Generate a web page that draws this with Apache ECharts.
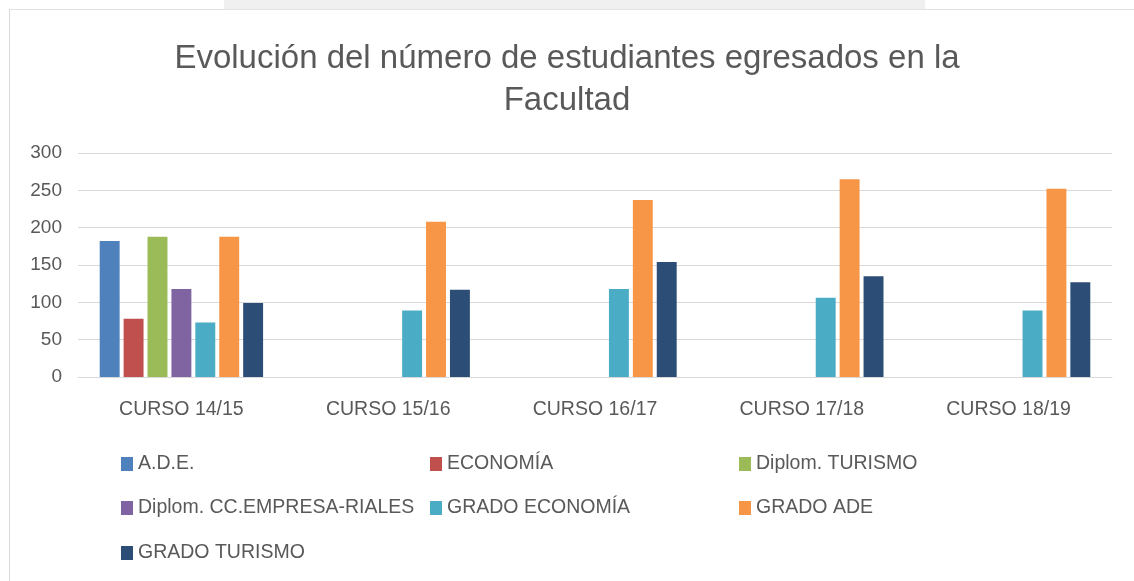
<!DOCTYPE html>
<html><head><meta charset="utf-8">
<script src="https://cdn.jsdelivr.net/npm/echarts@6/dist/echarts.min.js"></script>
<style>html,body{margin:0;padding:0;background:#fff}#c{width:1134px;height:581px}</style>
</head><body><div id="c"></div>
<script>
const categories = ['CURSO 14/15','CURSO 15/16','CURSO 16/17','CURSO 17/18','CURSO 18/19'];
const seriesNames = ['A.D.E.','ECONOMÍA','Diplom. TURISMO','Diplom. CC.EMPRESA-RIALES','GRADO ECONOMÍA','GRADO ADE','GRADO TURISMO'];
const ade = [182, null, null, null, null];
const economia = [78, null, null, null, null];
const diplTurismo = [188, null, null, null, null];
const diplEmpresa = [118, null, null, null, null];
const gradoEconomia = [73, 89, 118, 106, 89];
const gradoAde = [188, 208, 237, 265, 252];
const gradoTurismo = [99, 117, 154, 135, 127];
const yTicks = [0, 50, 100, 150, 200, 250, 300];

const values = [ade, economia, diplTurismo, diplEmpresa, gradoEconomia, gradoAde, gradoTurismo];
const colors = ['#4F81BD','#C0504D','#9BBB59','#8064A2','#4BACC6','#F79646','#2C4D75'];
const FONT = '"Liberation Sans", Arial, sans-serif';
const legendPos = [[121,454],[430,454],[739,454],[121,498],[430,498],[739,498],[121,543]];

const chart = echarts.init(document.getElementById('c'));
chart.setOption({
  animation: false,
  color: colors,
  title: {
    text: 'Evolución del número de estudiantes egresados en la\nFacultad',
    left: 'center', top: 33,
    textStyle: {fontFamily: FONT, fontSize: 33, fontWeight: 'normal', color: '#595959', lineHeight: 42}
  },
  graphic: [
    {type:'rect', shape:{x:224,y:0,width:701,height:9}, style:{fill:'#f0f0f0'}, silent:true},
    {type:'line', shape:{x1:9,y1:9.5,x2:1134,y2:9.5}, style:{stroke:'#e3e3e3',lineWidth:1}, silent:true},
    {type:'line', shape:{x1:9.5,y1:9,x2:9.5,y2:581}, style:{stroke:'#d9d9d9',lineWidth:1}, silent:true}
  ],
  legend: seriesNames.map((n,i)=>({
    data:[n], left: legendPos[i][0], top: legendPos[i][1],
    icon:'rect', itemWidth: 12, itemHeight: 14, itemGap: 0,
    textStyle:{fontFamily: FONT, fontSize: 19.5, color:'#595959', padding:[0,0,0,0]},
    padding: 0
  })),
  grid: {left: 78, right: 22, top: 153, bottom: 204, containLabel: false},
  xAxis: {
    type: 'category', data: categories,
    axisLine: {lineStyle:{color:'#d9d9d9', width:1}},
    axisTick: {show:false},
    axisLabel: {fontFamily: FONT, fontSize: 19.5, color:'#595959', margin: 23}
  },
  yAxis: {
    type: 'value', min: 0, max: 300, interval: 50,
    axisLine: {show:false}, axisTick:{show:false},
    axisLabel: {fontFamily: FONT, fontSize: 19, color:'#595959', margin: 16,
      formatter: v => yTicks.includes(v) ? String(v) : ''},
    splitLine: {lineStyle:{color:'#d9d9d9', width:1}}
  },
  series: seriesNames.map((n,i)=>({
    name: n, type:'bar', data: values[i],
    barGap: '20%', barCategoryGap: '21%',
    itemStyle: {color: colors[i]}
  }))
});
</script></body></html>
